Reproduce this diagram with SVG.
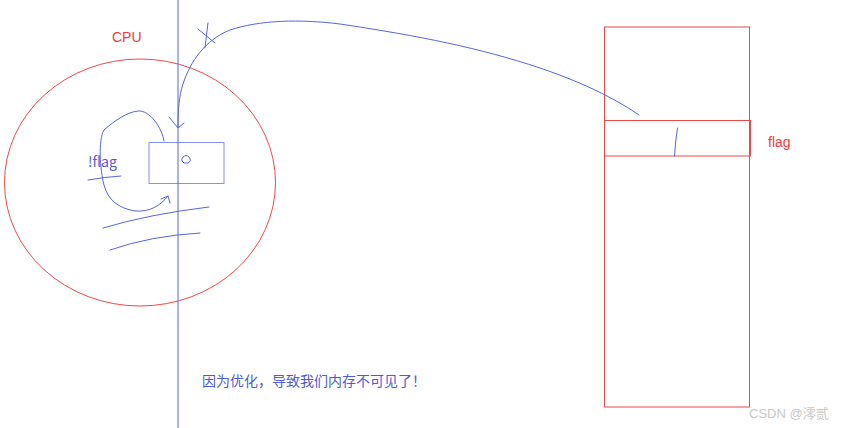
<svg xmlns="http://www.w3.org/2000/svg" width="844" height="428" viewBox="0 0 844 428">
<style>
.red{fill:none;stroke:#f04848;stroke-width:1}
.blue{fill:none;stroke:#5566dd;stroke-width:1;stroke-linecap:round;stroke-linejoin:round}
.tr{font-family:"Liberation Sans","Noto Sans CJK SC",sans-serif;font-size:14px;fill:#f03c3c}
.tb{font-family:"Noto Sans CJK SC","Liberation Sans",sans-serif;font-size:14px;fill:#4f5bd5}
.wm{font-family:"Liberation Sans","Noto Sans CJK SC",sans-serif;font-size:13px;fill:#c8c8c8}
</style>
<rect width="844" height="428" fill="#ffffff"/>
<g id="cpu">
<ellipse class="red" cx="140" cy="182.5" rx="135.5" ry="123.5"/>
<text class="tr" x="112" y="42">CPU</text>
</g>
<g id="cache">
<rect x="149" y="142.5" width="75" height="41" fill="none" stroke="#8890ee" stroke-width="1"/>
<path class="blue" d="M183 157 Q186 154 189 157 Q192 161 188 163 Q183 164 182 161 Q181 159 183 157"/>
</g>
<g id="memory">
<rect class="red" x="604.5" y="27" width="145" height="380"/>
<rect class="red" x="604.5" y="120.5" width="146" height="35.5"/>
<path class="blue" d="M677.5 128 Q675.5 140 674.5 156"/>
<text class="tr" x="768" y="147">flag</text>
</g>
<g id="labels">
<text class="tb" x="88" y="167">!flag</text>
<text class="tb" x="202" y="386">因为优化，导致我们内存不可见了！</text>
<text class="wm" x="749" y="418">CSDN @澪贰</text>
</g>
<g id="connectors">
<line x1="178" y1="0" x2="178" y2="428" stroke="#5566dd" stroke-width="1"/>
<path class="blue" d="M639 115 C620 102 590 85 540 68 C480 48 420 36 340 24 C300 19 260 20 230 30 C205 40 190 62 183 84 C179 96 178 110 178 127"/>
<path class="blue" d="M169 117 L178 128 L184 123"/>
<path class="blue" d="M208 23 L205 48 M198 29 L215 43"/>
<path class="blue" d="M164 141 C162 128 150 110 138 111 C128 112 115 120 104 130 C98 140 100 170 104 185 C108 200 118 208 135 211 C150 212 160 206 168 196"/>
<path class="blue" d="M161 199 L168 196 L170 203"/>
<path class="blue" d="M88 180 Q105 177 121 176"/>
<path class="blue" d="M103 228 Q150 214 209 207"/>
<path class="blue" d="M110 250 Q150 236 200 233"/>
</g>
</svg>
